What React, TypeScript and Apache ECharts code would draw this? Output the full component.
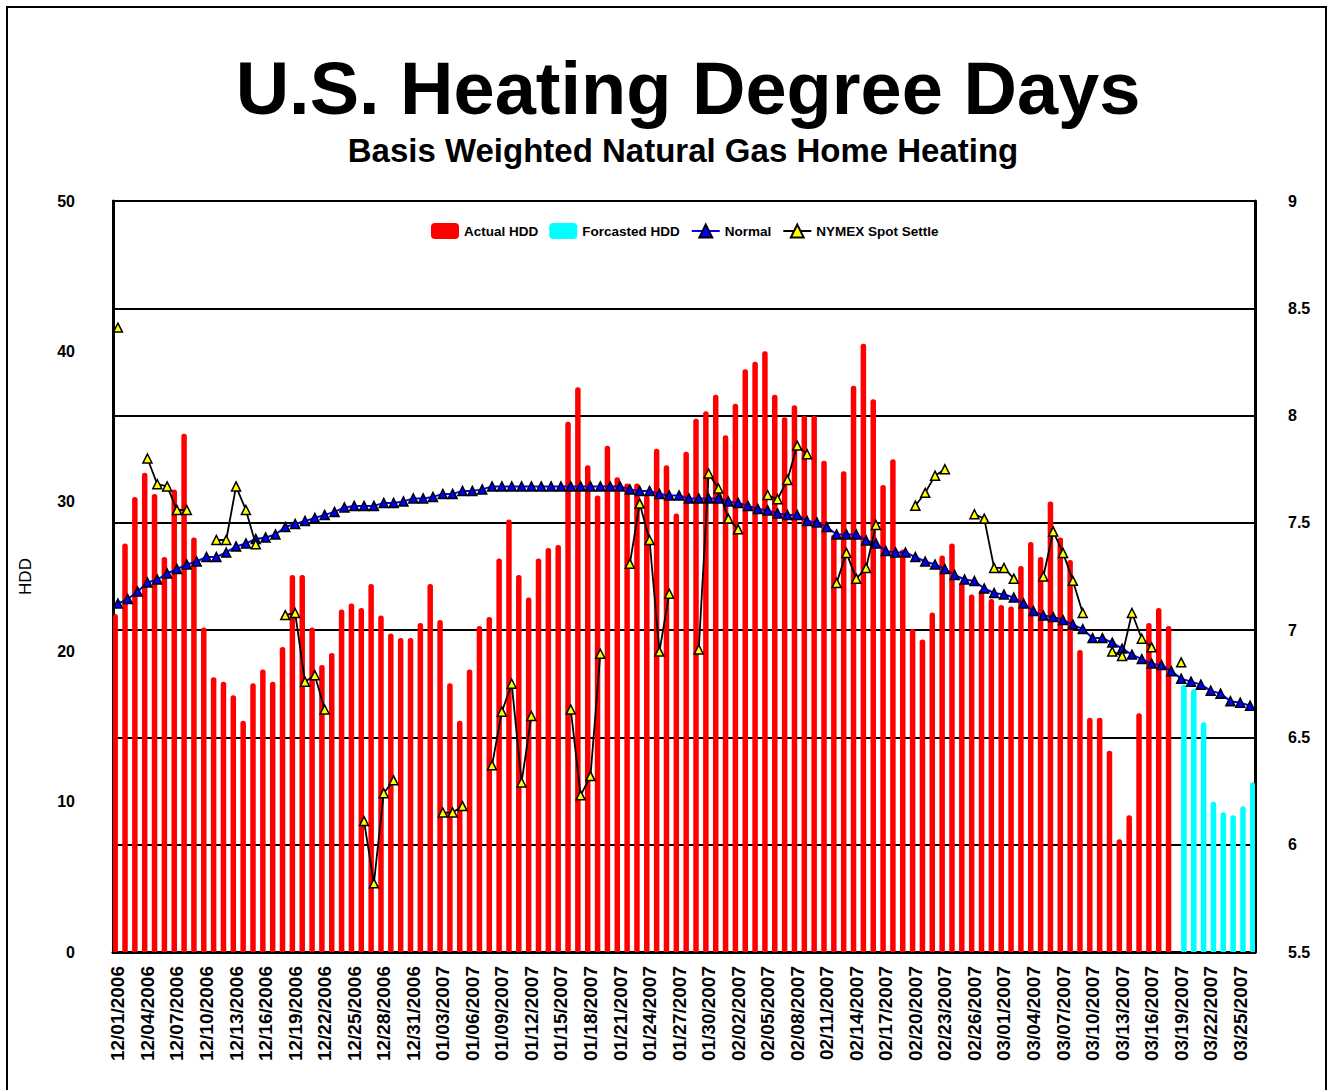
import React, { useEffect, useRef } from "react";
import * as echarts from "echarts";

// ---------- DATA ----------
const START_YEAR = 2006;
const START_MONTH = 11; // December (0-based)
const START_DAY = 1;
const DAY_COUNT = 116; // 12/01/2006 .. 03/26/2007

const pad2 = (n: number) => (n < 10 ? "0" + n : String(n));
const dates: string[] = [];
for (let i = 0; i < DAY_COUNT; i++) {
  const d = new Date(START_YEAR, START_MONTH, START_DAY + i);
  dates.push(pad2(d.getMonth() + 1) + "/" + pad2(d.getDate()) + "/" + d.getFullYear());
}

// Actual HDD, 12/01/2006 .. 03/18/2007
const actualHDD: number[] = [
  // Dec
  22.5, 27.2, 30.3, 31.9, 30.5, 26.3, 30.8, 34.5, 27.6, 21.6,
  18.3, 18.0, 17.1, 15.4, 17.9, 18.8, 18.0, 20.3, 25.1, 25.1,
  21.6, 19.1, 19.9, 22.8, 23.2, 22.9, 24.5, 22.4, 21.2, 20.9, 20.9,
  // Jan
  21.9, 24.5, 22.1, 17.9, 15.4, 18.8, 21.7, 22.3, 26.2, 28.8,
  25.1, 23.6, 26.2, 26.9, 27.1, 35.3, 37.6, 32.4, 30.4, 33.7,
  31.6, 31.2, 31.2, 30.4, 33.5, 32.4, 29.2, 33.3, 35.5, 36.0, 37.1,
  // Feb
  34.4, 36.5, 38.8, 39.3, 40.0, 37.1, 35.6, 36.4, 35.7, 35.7,
  32.7, 27.8, 32.0, 37.7, 40.5, 36.8, 31.1, 32.8, 26.8, 21.5,
  20.8, 22.6, 26.4, 27.2, 24.6, 23.8, 24.1, 23.5,
  // Mar
  23.1, 23.0, 25.7, 27.3, 26.3, 30.0, 27.6, 26.1, 20.1, 15.6,
  15.6, 13.4, 7.5, 9.1, 15.9, 21.9, 22.9, 21.7,
];

// Forecasted HDD, 03/19/2007 .. 03/26/2007
const forecastHDD: number[] = [17.8, 17.5, 15.3, 10.0, 9.3, 9.1, 9.7, 11.3];

// Normal HDD, 12/01/2006 .. 03/26/2007
const normalHDD: number[] = [
  // Dec
  23.2, 23.5, 24.0, 24.6, 24.8, 25.2, 25.5, 25.8, 26.0, 26.3,
  26.3, 26.6, 27.0, 27.2, 27.5, 27.6, 27.8, 28.3, 28.5, 28.7,
  28.9, 29.1, 29.3, 29.6, 29.7, 29.7, 29.7, 29.9, 29.9, 30.0, 30.2,
  // Jan
  30.2, 30.3, 30.5, 30.5, 30.7, 30.7, 30.8, 31.0, 31.0, 31.0,
  31.0, 31.0, 31.0, 31.0, 31.0, 31.0, 31.0, 31.0, 31.0, 31.0,
  31.0, 30.8, 30.7, 30.7, 30.5, 30.4, 30.4, 30.2, 30.2, 30.2, 30.2,
  // Feb
  30.0, 29.9, 29.7, 29.5, 29.4, 29.2, 29.1, 29.1, 28.7, 28.6,
  28.3, 27.8, 27.8, 27.8, 27.4, 27.2, 26.7, 26.6, 26.6, 26.3,
  26.0, 25.8, 25.5, 25.1, 24.8, 24.7, 24.2, 23.9,
  // Mar
  23.8, 23.6, 23.2, 22.7, 22.4, 22.3, 22.1, 21.8, 21.5, 20.9,
  20.9, 20.6, 20.2, 19.8, 19.5, 19.2, 19.1, 18.7, 18.2, 18.0,
  17.8, 17.4, 17.2, 16.7, 16.6, 16.4,
];

// NYMEX spot settle ($), null = no trading day
const nymexSpot: (number | null)[] = [
  // Dec
  8.41, null, null, 7.80, 7.68, 7.67, 7.56, 7.56, null, null,
  7.42, 7.42, 7.67, 7.56, 7.40, null, null, 7.07, 7.08, 6.76,
  6.79, 6.63, null, null, null, 6.11, 5.82, 6.24, 6.30, null, null,
  // Jan
  null, null, 6.15, 6.15, 6.18, null, null, 6.37, 6.62, 6.75,
  6.29, 6.60, null, null, null, 6.63, 6.23, 6.32, 6.89, null,
  null, 7.31, 7.59, 7.42, 6.90, 7.17, null, null, 6.91, 7.73, 7.66,
  // Feb
  7.52, 7.47, null, null, 7.63, 7.61, 7.70, 7.86, 7.82, null,
  null, 7.22, 7.36, 7.24, 7.29, 7.49, null, null, null, 7.58,
  7.64, 7.72, 7.75, null, null, 7.54, 7.52, 7.29,
  // Mar
  7.29, 7.24, null, null, 7.25, 7.46, 7.36, 7.23, 7.08, null,
  null, 6.90, 6.88, 7.08, 6.96, 6.92, null, null, 6.85, null,
  null, null, null, null, null, null,
];

const titleText = "U.S. Heating Degree Days";
const subtitleText = "Basis Weighted Natural Gas Home Heating";

// ---------- COMPONENT ----------
const FONT = '"Liberation Sans", Arial, Helvetica, sans-serif';

export default function App() {
  const ref = useRef<HTMLDivElement | null>(null);

  useEffect(() => {
    document.body.style.margin = "0";
    if (!ref.current) return;
    const chart = echarts.init(ref.current, undefined, { renderer: "svg" });

    const actualSeries = [
      ...actualHDD,
      ...new Array(DAY_COUNT - actualHDD.length).fill(null),
    ];
    const forecastSeries = [
      ...new Array(DAY_COUNT - forecastHDD.length).fill(null),
      ...forecastHDD,
    ];

    const option: any = {
      animation: false,
      backgroundColor: "#ffffff",
      textStyle: { fontFamily: FONT, color: "#000" },
      graphic: [
        {
          type: "rect",
          silent: true,
          shape: { x: 7, y: 7, width: 1319, height: 1100 },
          style: { fill: "none", stroke: "#000", lineWidth: 2 },
          z: 100,
        },
        {
          type: "text",
          x: 688,
          y: 88,
          style: {
            text: titleText,
            fontFamily: FONT,
            fontSize: 74,
            fontWeight: "bold",
            fill: "#000",
            align: "center",
            verticalAlign: "middle",
            textAlign: "center",
            textVerticalAlign: "middle",
          },
        },
        {
          type: "text",
          x: 683,
          y: 150,
          style: {
            text: subtitleText,
            fontFamily: FONT,
            fontSize: 33,
            fontWeight: "bold",
            fill: "#000",
            align: "center",
            verticalAlign: "middle",
            textAlign: "center",
            textVerticalAlign: "middle",
          },
        },
      ],
      legend: {
        left: 426,
        top: 218,
        itemWidth: 28,
        itemHeight: 16,
        itemGap: 11,
        textStyle: { fontFamily: FONT, fontSize: 13.5, fontWeight: "bold", color: "#000" },
        data: [
          { name: "Actual HDD", icon: "roundRect" },
          { name: "Forcasted HDD", icon: "roundRect" },
          { name: "Normal" },
          { name: "NYMEX Spot Settle" },
        ],
      },
      grid: {
        left: 113,
        right: 78,
        top: 201,
        bottom: 138,
        show: true,
        borderColor: "#000",
        borderWidth: 2,
        backgroundColor: "transparent",
      },
      xAxis: {
        type: "category",
        data: dates,
        boundaryGap: true,
        axisLine: { show: true, lineStyle: { color: "#000", width: 3 } },
        axisTick: { show: false },
        axisLabel: {
          interval: 2,
          rotate: 90,
          fontSize: 19,
          fontWeight: "bold",
          fontFamily: FONT,
          color: "#000",
          margin: 14,
        },
        splitLine: { show: false },
      },
      yAxis: [
        {
          type: "value",
          position: "left",
          min: 0,
          max: 50,
          interval: 10,
          name: "HDD",
          nameLocation: "middle",
          nameGap: 79,
          nameTextStyle: { fontFamily: FONT, fontSize: 17, color: "#000" },
          axisLine: { show: true, lineStyle: { color: "#000", width: 3 } },
          axisTick: { show: false },
          splitLine: { show: false },
          axisLabel: {
            fontSize: 16,
            fontWeight: "bold",
            fontFamily: FONT,
            color: "#000",
            margin: 38,
          },
        },
        {
          type: "value",
          position: "right",
          min: 5.5,
          max: 9,
          interval: 0.5,
          axisLine: { show: true, lineStyle: { color: "#000", width: 3 } },
          axisTick: { show: false },
          splitLine: { show: true, lineStyle: { color: "#000", width: 2 } },
          axisLabel: {
            fontSize: 16,
            fontWeight: "bold",
            fontFamily: FONT,
            color: "#000",
            margin: 33,
          },
        },
      ],
      series: [
        {
          name: "Actual HDD",
          type: "bar",
          yAxisIndex: 0,
          data: actualSeries,
          barWidth: 5.5,
          barGap: "0%",
          itemStyle: { color: "#FF0000", borderRadius: [2.5, 2.5, 0, 0] },
          z: 2,
        },
        {
          name: "Forcasted HDD",
          type: "bar",
          yAxisIndex: 0,
          data: forecastSeries,
          barWidth: 5.5,
          barGap: "0%",
          itemStyle: { color: "#00FFFF", borderRadius: [2.5, 2.5, 0, 0] },
          z: 2,
        },
        {
          name: "Normal",
          type: "line",
          yAxisIndex: 0,
          data: normalHDD,
          symbol: "triangle",
          symbolSize: 9,
          showAllSymbol: true,
          lineStyle: { color: "#0000FF", width: 2 },
          itemStyle: { color: "#0000FF", borderColor: "#000", borderWidth: 1.5 },
          z: 3,
        },
        {
          name: "NYMEX Spot Settle",
          type: "line",
          yAxisIndex: 1,
          data: nymexSpot,
          connectNulls: false,
          symbol: "triangle",
          symbolSize: 9,
          showAllSymbol: true,
          lineStyle: { color: "#000", width: 1.8 },
          itemStyle: { color: "#FFFF00", borderColor: "#000", borderWidth: 1.5 },
          z: 4,
        },
      ],
    };

    chart.setOption(option);
    return () => {
      chart.dispose();
    };
  }, []);

  return <div ref={ref} style={{ width: 1333, height: 1090 }} />;
}
